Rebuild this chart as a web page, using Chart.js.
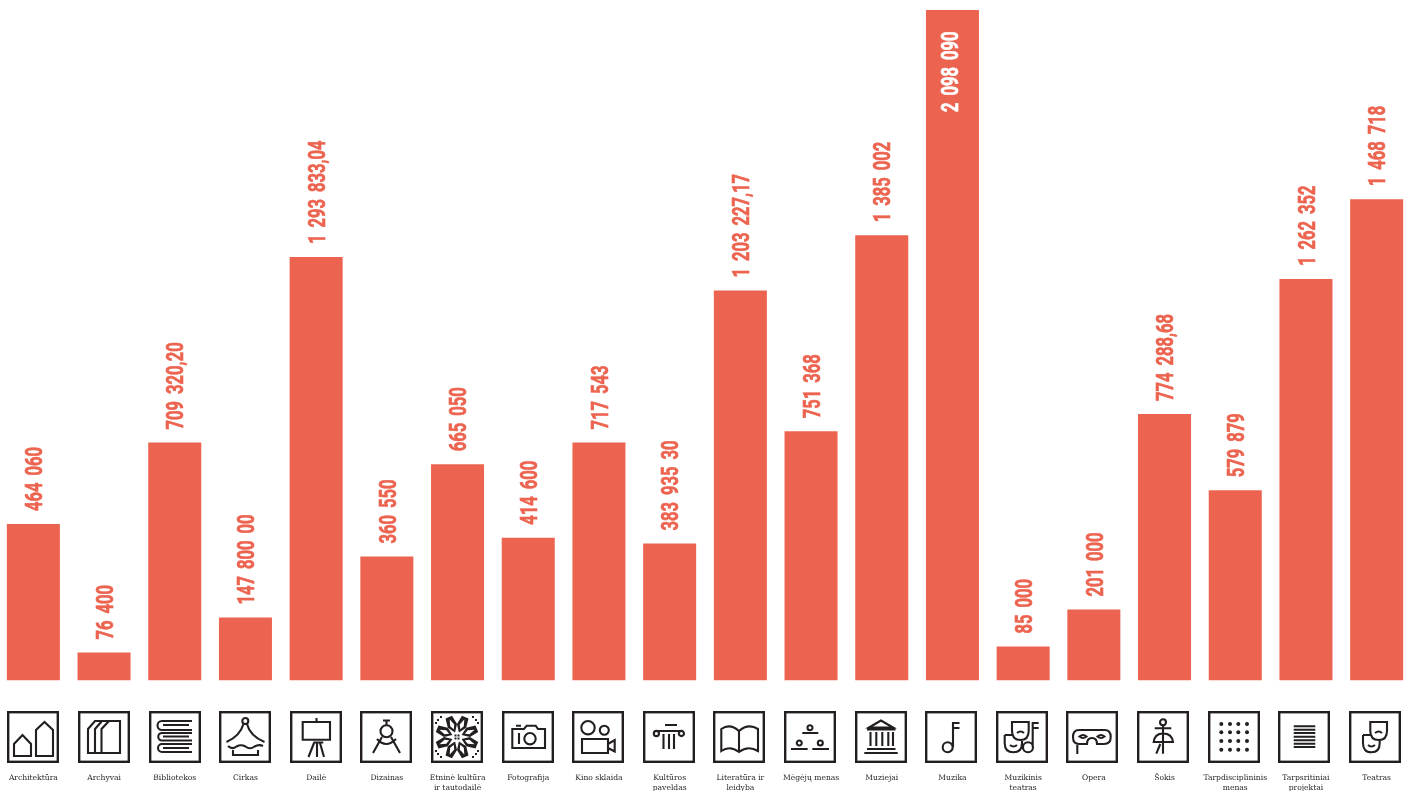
<!DOCTYPE html>
<html>
<head>
<meta charset="utf-8">
<script src="https://cdn.jsdelivr.net/npm/chart.js@4"></script>
<style>
  html, body { margin: 0; padding: 0; background: #fff; overflow: hidden; }
  #wrap { position: absolute; left: -2px; top: 0; width: 1414px; height: 791px; }
</style>
</head>
<body>
<div id="wrap"><canvas id="chart"></canvas></div>
<script>
const categories = [
    'Architektūra', 'Archyvai', 'Bibliotekos', 'Cirkas', 'Dailė', 'Dizainas',
    ['Etninė kultūra', 'ir tautodailė'], 'Fotografija', 'Kino sklaida',
    ['Kultūros', 'paveldas'], ['Literatūra ir', 'leidyba'], 'Mėgėjų menas',
    'Muziejai', 'Muzika', ['Muzikinis', 'teatras'], 'Opera', 'Šokis',
    ['Tarpdisciplininis', 'menas'], ['Tarpsritiniai', 'projektai'], 'Teatras'
];

// printed amounts, exactly as they stand on the picture
const amountLabels = [
    '464 060', '76 400', '709 320,20', '147 800 00', '1 293 833,04', '360 550',
    '665 050', '414 600', '717 543', '383 935 30', '1 203 227,17', '751 368',
    '1 385 002', '2 098 090', '85 000', '201 000', '774 288,68', '579 879',
    '1 262 352', '1 468 718'
];

// bar heights (they do not follow the printed amounts exactly)
const barValues = [
    490000, 87700, 745000, 197000, 1325000, 388000,
    677000, 447000, 745000, 429000, 1220000, 780000,
    1393000, 2098090, 106500, 222000, 834000, 595000,
    1256000, 1506000
];

const barColor = '#EC6450';
const inkColor = '#231F20';

// pictograms on a 52 x 52 box, outlined with a stroke
const iconPaths = [
    'M7 45V33L15.5 24L24 33V45ZM29 45V19L37.5 11L46 19V45Z',
    'M10 42V18L17 10H42V42ZM17 42V18L24 10M23.5 42V18L31 10',
    'M43 10H13A4.3 4.3 0 0 0 13 19H43M40 14H14M43 22H13A3.6 3.6 0 0 0 13 29.5H43M40 25.5H14M43 33H13A4 4 0 0 0 13 41H43M40 37H14',
    'M29.3 10A3 3 0 1 1 23.3 10A3 3 0 1 1 29.3 10M24.5 13Q21 25 7.5 31M28 13Q31 25 45.5 31M9 35Q13 39 17.5 35.5Q22 33 26.5 35.5Q31 39 35.5 35.5Q40 33 44 35M14 39V44H39V39',
    'M12.7 11H40V28.7H12.7ZM26.5 7V11M23.3 31.5H33.3M24 32L18.5 46M27 32V46M30 32L34 46',
    'M23 9.5H30M26.5 9.5V14M32.5 20.3A6 6 0 1 1 20.5 20.3A6 6 0 1 1 32.5 20.3M22 26L13 42M31 26L40 42M17 28Q26 38 36 28',
    '',
    'M10.3 18H22L24.7 14.7H33.7L36 18H43V37H10.3ZM14 14.7H19M17 22V33M33.7 27.7A5.7 5.7 0 1 1 22.3 27.7A5.7 5.7 0 1 1 33.7 27.7',
    'M22.7 16.7A6.7 6.7 0 1 1 9.3 16.7A6.7 6.7 0 1 1 22.7 16.7M36.8 19.3A4.5 4.5 0 1 1 27.8 19.3A4.5 4.5 0 1 1 36.8 19.3M10 28H36V42H10ZM36 33L42.7 29V40.5L36 37',
    'M22 14H34M13 20H38.5M16 22.5A2.6 2.6 0 1 1 10.8 22.5A2.6 2.6 0 1 1 16 22.5M41 22.5A2.6 2.6 0 1 1 35.8 22.5A2.6 2.6 0 1 1 41 22.5M20.5 23V38M26 23V38M31 23V38',
    'M26 20Q17 12 8.3 18V40Q17 34 26 41Q35 34 45 40V18Q35 12 26 20ZM26 20V41',
    'M28.5 16.7A2.5 2.5 0 1 1 23.5 16.7A2.5 2.5 0 1 1 28.5 16.7M18.3 22H34.3M17.8 32A2.5 2.5 0 1 1 12.8 32A2.5 2.5 0 1 1 17.8 32M7 38H23.7M38.8 32A2.5 2.5 0 1 1 33.8 32A2.5 2.5 0 1 1 38.8 32M28.3 38H45',
    'M26 9.5L14 16.5H38ZM12 18.5H40.5M15.5 21V35M21.3 21V35M27.3 21V35M33.3 21V35M38 21V35M12 38H40.5M9.3 42H42.7',
    'M27.7 36.3A5 5 0 1 1 17.7 36.3A5 5 0 1 1 27.7 36.3M28 36V11M28 12H34.5M28 17H34.5',
    'M16 11H32.7V20Q32.7 29 24.4 29Q16 29 16 20ZM8.7 24H17M26 29V32Q26 41.3 17.4 41.3Q8.7 41.3 8.7 32V24M14 34Q17.5 37 21 34M21 22Q24.5 19 28 22M37 36.3A5 5 0 1 1 27 36.3A5 5 0 1 1 37 36.3M36.7 36V11M36.7 12H42.7M36.7 17H42.7',
    'M13 19H38.7Q44.7 19 44.7 26Q44.7 33 38 33H31Q31 27 26 27Q21 27 21 33H13Q7 33 7 26Q7 19 13 19ZM11.3 33V43M13.5 25.5Q17 22.5 20.5 25.5Q17 28.5 13.5 25.5ZM31.5 25.5Q35 22.5 38.5 25.5Q35 28.5 31.5 25.5Z',
    'M29 11.3A3 3 0 1 1 23 11.3A3 3 0 1 1 29 11.3M17.7 17.3H34.3M26 14.3V32M16.7 31H36Q35 22.5 26 22.5Q17.7 22.5 16.7 31ZM23.3 33L19.3 42.7M26 32V42.7',
    '',
    'M15.7 15.3H37.3M15.7 18.7H37.3M15.7 22H37.3M15.7 25.7H37.3M15.7 29.3H37.3M15.7 32.7H37.3M15.7 36H37.3',
    'M21.3 11H38V20Q38 29 29.7 29Q21.3 29 21.3 20ZM14 24H22M30.7 29V32Q30.7 41.3 22.4 41.3Q14 41.3 14 32V24M19 34Q22.4 37 26 34M26 22Q29.7 19 33 22'
];

const dotColumns = [13.3, 22, 30.3, 39];
const dotRows = [13, 21.3, 30, 38.7];

function drawIconBox(ctx, left, top, index) {
    ctx.save();
    ctx.translate(left, top);
    ctx.strokeStyle = inkColor;
    ctx.fillStyle = inkColor;
    ctx.lineWidth = 2.4;
    ctx.lineJoin = 'miter';
    ctx.strokeRect(1.2, 1.2, 49.6, 49.6);
    ctx.lineWidth = 2.1;
    if (iconPaths[index]) {
        ctx.stroke(new Path2D(iconPaths[index]));
    }
    if (index === 17) {
        dotRows.forEach(y => dotColumns.forEach(x => {
            ctx.beginPath();
            ctx.arc(x, y, 2, 0, Math.PI * 2);
            ctx.fill();
        }));
    }
    if (index === 6) {
        drawFlower(ctx);
    }
    ctx.restore();
}

// woven star of the folk-art icon: eight leaves turned around the middle
function drawFlower(ctx) {
    ctx.save();
    ctx.translate(26, 26);
    for (let i = 0; i < 8; i++) {
        ctx.save();
        ctx.rotate(Math.PI / 8 + i * Math.PI / 4);
        ctx.fillStyle = inkColor;
        ctx.fill(new Path2D('M0 -5L-5 -12L-3.5 -21.5H3.5L5 -12Z'));
        ctx.fillStyle = '#fff';
        ctx.fill(new Path2D('M0 -8.5L-2.2 -12.5L0 -19L2.2 -12.5Z'));
        ctx.restore();
    }
    ctx.fillStyle = inkColor;
    [[-16, -20], [-19, -17], [-21, -14], [16, -20], [19, -17], [21, -14], [-16, 20], [-19, 17], [-21, 14], [16, 20], [19, 17], [21, 14], [-1.5, -1.5], [1.5, -1.5], [-1.5, 1.5], [1.5, 1.5]].forEach(p => {
        ctx.fillRect(p[0] - 1, p[1] - 1, 2, 2);
    });
    ctx.restore();
}

const pictogramsAndAmounts = {
    id: 'pictogramsAndAmounts',
    afterDatasetsDraw(chart) {
        const ctx = chart.ctx;
        const bars = chart.getDatasetMeta(0).data;
        bars.forEach((bar, i) => {
            // narrow amount text, turned to read upwards
            const inside = i === barValues.indexOf(Math.max(...barValues));
            ctx.save();
            ctx.translate(inside ? bar.x - 3 : bar.x + 0.5, inside ? bar.y + 102 : bar.y - 13);
            ctx.rotate(-Math.PI / 2);
            ctx.scale(0.72, 1);
            ctx.font = 'bold 23px Roboto, sans-serif';
            ctx.wordSpacing = '4px';
            ctx.textAlign = 'left';
            ctx.textBaseline = 'alphabetic';
            ctx.fillStyle = inside ? '#fff' : barColor;
            ctx.strokeStyle = ctx.fillStyle;
            ctx.lineWidth = 0.6;
            ctx.fillText(amountLabels[i], 0, 8.2);
            ctx.strokeText(amountLabels[i], 0, 8.2);
            ctx.restore();

            // the icon row runs a touch tighter than the bars
            drawIconBox(ctx, Math.round(bar.x - i * 0.1) - 26, 711, i);
        });
    }
};

new Chart(document.getElementById('chart'), {
    type: 'bar',
    data: {
        labels: categories,
        datasets: [{
            data: barValues,
            backgroundColor: barColor,
            borderWidth: 0,
            barPercentage: 0.75,
            categoryPercentage: 1
        }]
    },
    options: {
        responsive: true,
        maintainAspectRatio: false,
        animation: false,
        layout: { padding: { top: 10, left: 0, right: 0, bottom: 0 } },
        plugins: {
            legend: { display: false },
            tooltip: { enabled: false },
            title: { display: false }
        },
        scales: {
            x: {
                grid: { display: false, drawTicks: false },
                border: { display: false },
                afterFit(scale) {
                    scale.height = 110.5;
                    scale.paddingLeft = 0;
                    scale.paddingRight = 0;
                },
                ticks: {
                    autoSkip: false,
                    maxRotation: 0,
                    minRotation: 0,
                    padding: 92.5,
                    color: inkColor,
                    font: { family: '"DejaVu Serif", serif', size: 7.6, lineHeight: 1.3 }
                }
            },
            y: {
                display: false,
                min: 0,
                max: 2098090
            }
        }
    },
    plugins: [pictogramsAndAmounts]
});
</script>
</body>
</html>
